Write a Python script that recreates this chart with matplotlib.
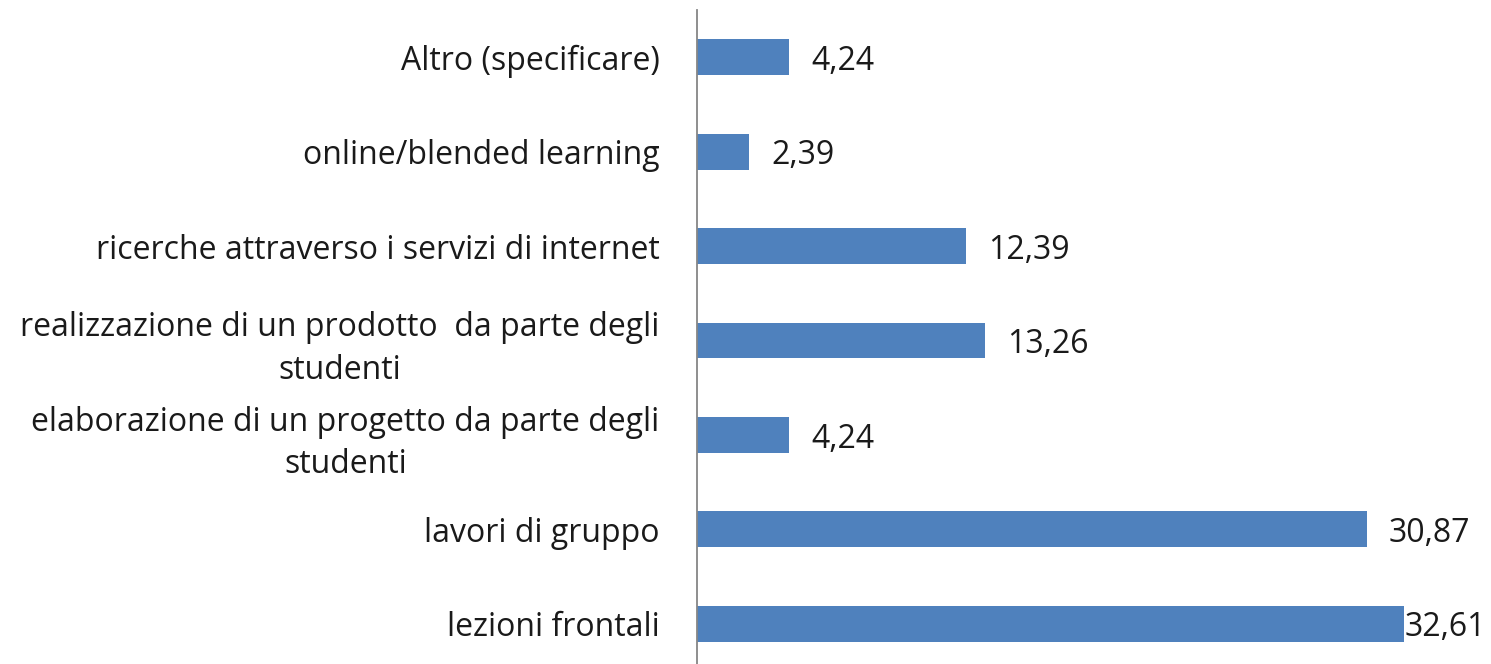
import matplotlib
matplotlib.use("Agg")
import matplotlib.pyplot as plt
from matplotlib.transforms import blended_transform_factory, offset_copy

# categories listed top to bottom as in the chart
categories = [
    "Altro (specificare)",
    "online/blended learning",
    "ricerche attraverso i servizi di internet",
    "realizzazione di un prodotto  da parte degli\nstudenti",
    "elaborazione di un progetto da parte degli\nstudenti",
    "lavori di gruppo",
    "lezioni frontali",
]
values = [4.24, 2.39, 12.39, 13.26, 4.24, 30.87, 32.61]
value_labels = ["4,24", "2,39", "12,39", "13,26", "4,24", "30,87", "32,61"]

plt.rcParams['font.family'] = ['Open Sans', 'DejaVu Sans']
W, H = 1491, 664
fs = 23
fig = plt.figure(figsize=(W / 100, H / 100), dpi=100)
ax = fig.add_axes([697 / W, -7 / H, 781 / W, 661 / H])

pos = list(range(len(categories)))
ax.barh(pos, values, height=0.38, color='#4F81BD', zorder=2)
ax.set_ylim(len(categories) - 0.5, -0.5)
ax.set_xlim(0, 36)

ax.set_yticks(pos)
ax.set_yticklabels(categories, fontsize=fs, color='#1a1a1a', linespacing=1.38)
for lab in ax.get_yticklabels():
    lab.set_multialignment('center')
ax.tick_params(axis='y', length=0, pad=27)
ax.set_xticks([])

for s in ['top', 'right', 'bottom']:
    ax.spines[s].set_visible(False)
ax.spines['left'].set_color('#868686')
ax.spines['left'].set_linewidth(1.3)

trans = blended_transform_factory(fig.transFigure, ax.transData)
trans = offset_copy(trans, fig=fig, y=-3, units='points')
for i, (v, t) in enumerate(zip(values, value_labels)):
    if i == len(values) - 1:
        # excel pulls the last label back inside the plot area
        ax.text(1486 / W, i, t, transform=trans, ha='right', va='center',
                fontsize=fs, color='#1a1a1a')
    else:
        ax.annotate(t, xy=(v, i), xytext=(16, -3), textcoords='offset points',
                    ha='left', va='center', fontsize=fs, color='#1a1a1a')

fig.savefig("out.png", dpi=100)
